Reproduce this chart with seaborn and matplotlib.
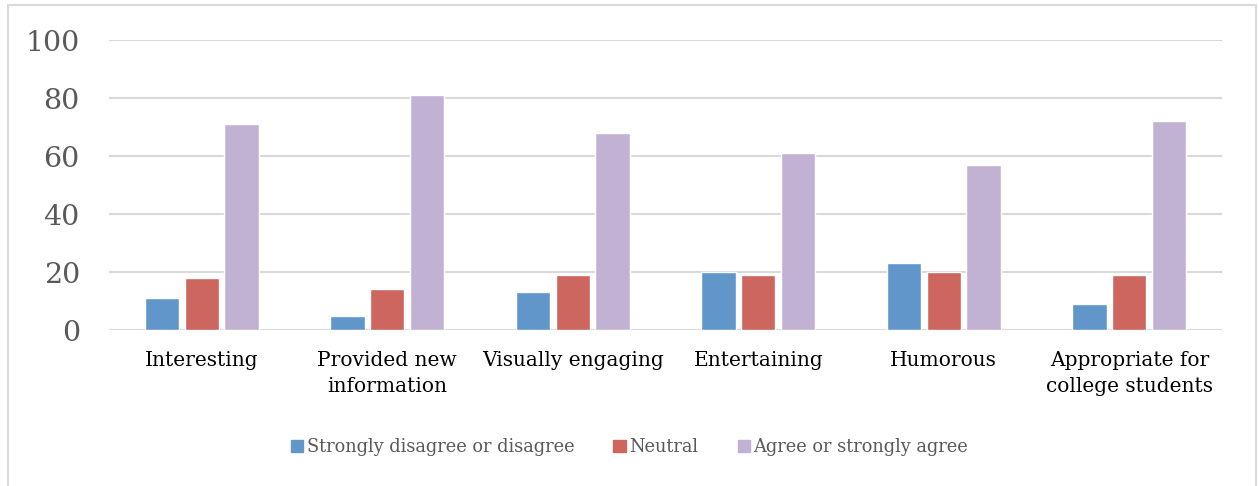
import matplotlib
matplotlib.use("Agg")
import matplotlib.pyplot as plt
import matplotlib.patches as mpatches
import seaborn as sns
import pandas as pd

categories = ["Interesting", "Provided new\ninformation", "Visually engaging",
              "Entertaining", "Humorous", "Appropriate for\ncollege students"]
disagree = [11, 5, 13, 20, 23, 9]
neutral = [18, 14, 19, 19, 20, 19]
agree = [71, 81, 68, 61, 57, 72]
series_names = ["Strongly disagree or disagree", "Neutral", "Agree or strongly agree"]
colors = ["#6096C9", "#CD665F", "#C1B2D3"]
y_ticks = [0, 20, 40, 60, 80, 100]

rows = []
for name, vals in zip(series_names, [disagree, neutral, agree]):
    for cat, v in zip(categories, vals):
        rows.append({"Category": cat, "Response": name, "Percent": v})
df = pd.DataFrame(rows)

sns.set_style("white")
plt.rcParams["font.family"] = ["DejaVu Serif"]

fig = plt.figure(figsize=(12.59, 4.86), dpi=100)
ax = fig.add_axes([109 / 1259, 1 - 330 / 486, (1222 - 109) / 1259, 290 / 486])

sns.barplot(data=df, x="Category", y="Percent", hue="Response", order=categories,
            hue_order=series_names, palette=colors, width=0.64, gap=0.13,
            saturation=1, ax=ax, legend=False, zorder=3)

ax.set_ylim(0, 100)
ax.set_xlim(-0.5, len(categories) - 0.5)
ax.set_yticks(y_ticks)
ax.set_yticklabels([str(t) for t in y_ticks], fontsize=20.5, color="#595959")
for lbl in ax.get_xticklabels():
    lbl.set_linespacing(1.45)
ax.tick_params(axis="x", labelsize=14.5, colors="black", length=0, pad=15)
ax.tick_params(axis="y", length=0, pad=21)
ax.set_xlabel("")
ax.set_ylabel("")
for s in ax.spines.values():
    s.set_visible(False)
ax.yaxis.grid(True, color="#D9D9D9", linewidth=1.5, zorder=0)
ax.set_axisbelow(True)

handles = [mpatches.Patch(color=c, label=n) for c, n in zip(colors, series_names)]
leg = fig.legend(handles=handles, loc="center", bbox_to_anchor=(0.5, 1 - 447 / 486),
                 ncol=3, frameon=False, fontsize=12.8, handlelength=0.7,
                 handleheight=0.7, handletextpad=0.2, columnspacing=2.2)
for t in leg.get_texts():
    t.set_color("#595959")

border = mpatches.Rectangle((8 / 1259, -0.05), (1256 - 8) / 1259, 1.05 - 5 / 486,
                            transform=fig.transFigure, fill=False,
                            edgecolor="#D9D9D9", linewidth=1.5)
fig.patches.append(border)

fig.savefig("out.png", dpi=100, facecolor="white")
